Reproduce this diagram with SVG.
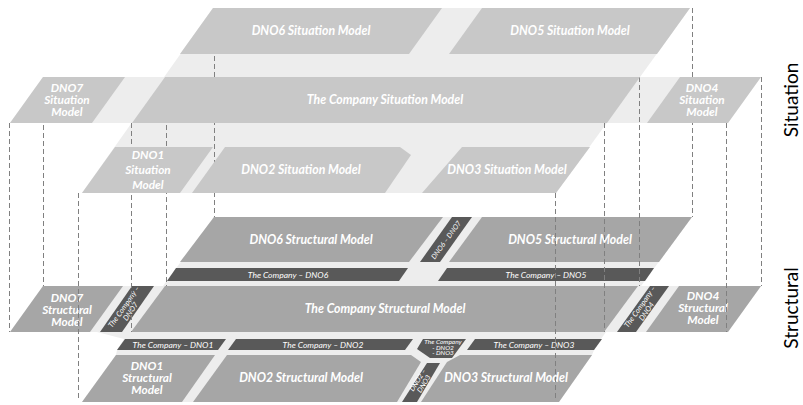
<svg xmlns="http://www.w3.org/2000/svg" width="803" height="405" viewBox="0 0 803 405">
<style>
.plane{fill:#ededed}
.sit{fill:#c8c8c8}
.str{fill:#a6a6a6}
.dark{fill:#595959}
.lbl{font-family:Lato,"Open Sans",sans-serif;font-weight:bold;font-style:italic;font-size:12.3px;fill:#ffffff;text-anchor:middle}
.ml{font-size:11.8px}
.bar{font-family:Lato,"Open Sans",sans-serif;font-style:italic;font-size:8.5px;fill:#ffffff;text-anchor:middle}
.sm{font-family:Lato,"Open Sans",sans-serif;font-style:italic;font-size:7px;fill:#ffffff;text-anchor:middle}
.dash{stroke:#808080;stroke-width:1;stroke-dasharray:5 3;fill:none}
.title{font-family:Lato,"Open Sans",sans-serif;font-size:19px;fill:#000000;text-anchor:middle}
</style>
<rect width="803" height="405" fill="#ffffff"/>
<g id="structural-plane">
<polygon class="plane" points="214,217 692,217 641,286 163,286"/>
<polygon class="plane" points="43,286 761,286 728,332 10,332"/>
<polygon class="plane" points="97,332 606,332 601,339 594,350 592,355 559,402 82,402 116,355 117,350 124,339"/>
</g>
<g id="dno6-structural"><polygon class="str" points="214,217 443,217 409,262 180,262"/><text class="lbl" x="311" y="244.3">DNO6 Structural Model</text></g>
<g id="dno6-dno7"><polygon class="dark" points="452,217 472,217 440,262 420,262"/><text class="sm" transform="translate(446,240) rotate(-54)" y="2.5">DNO6 – DNO7</text></g>
<g id="dno5-structural"><polygon class="str" points="482,217 692,217 659,262 449,262"/><text class="lbl" x="570" y="244.3">DNO5 Structural Model</text></g>
<g id="company-dno6"><polygon class="dark" points="176,268 408,268 399,281 167,281"/><text class="bar" x="288" y="278">The Company – DNO6</text></g>
<g id="company-dno5"><polygon class="dark" points="447,268 654,268 645,281 438,281"/><text class="bar" x="546" y="278">The Company – DNO5</text></g>
<g id="dno7-structural"><polygon class="str" points="43,286 123,286 90,332 10,332"/><text class="lbl ml" x="67" y="302">DNO7<tspan x="67" dy="12">Structural</tspan><tspan x="67" dy="12">Model</tspan></text></g>
<g id="company-dno7"><polygon class="dark" points="132,286 154,286 122,332 100,332"/><text class="sm" transform="translate(127,309) rotate(-55)" style="font-size:7.5px" y="-1.2">The Company –<tspan x="0" dy="8">DNO7</tspan></text></g>
<g id="company-structural"><polygon class="str" points="165,286 638,286 604,332 131,332"/><text class="lbl" x="385" y="313.3">The Company Structural Model</text></g>
<g id="company-dno4"><polygon class="dark" points="650,286 669,286 636,332 617,332"/><text class="sm" transform="translate(643,309) rotate(-55)" style="font-size:7.5px" y="-1.2">The Company –<tspan x="0" dy="8">DNO4</tspan></text></g>
<g id="dno4-structural"><polygon class="str" points="679,286 761,286 728,332 646,332"/><text class="lbl ml" x="703" y="300">DNO4<tspan x="703" dy="12">Structural</tspan><tspan x="703" dy="12">Model</tspan></text></g>
<g id="company-dno1"><polygon class="dark" points="125,339 226,339 218,350 117,350"/><text class="bar" x="173" y="347.5">The Company – DNO1</text></g>
<g id="company-dno2"><polygon class="dark" points="236,339 413,339 405,350 228,350"/><text class="bar" x="323" y="347.5">The Company – DNO2</text></g>
<g id="company-dno2-dno3"><polygon class="dark" points="423,339 466,339 452,358 430,358 417,349"/><text class="sm" style="font-size:6.5px" x="443" y="344">The Company<tspan x="443" dy="5.5">- DNO2</tspan><tspan x="443" dy="5.5">- DNO3</tspan></text></g>
<g id="company-dno3"><polygon class="dark" points="475,339 602,339 594,350 467,350"/><text class="bar" x="534" y="347.5">The Company – DNO3</text></g>
<g id="dno1-structural"><polygon class="str" points="116,355 215,355 182,402 82,402"/><text class="lbl ml" x="147" y="370">DNO1<tspan x="147" dy="12">Structural</tspan><tspan x="147" dy="12">Model</tspan></text></g>
<g id="dno2-structural"><polygon class="str" points="227,355 411,355 421,362 397,402 193,402"/><text class="lbl" x="301" y="382.3">DNO2 Structural Model</text></g>
<g id="dno2-dno3"><polygon class="dark" points="427,363 440,363 417,402 402,402"/><text class="sm" transform="translate(421,382) rotate(-58)" y="-1.3">DNO2 –<tspan x="0" dy="7">DNO3</tspan></text></g>
<g id="dno3-structural"><polygon class="str" points="460,355 592,355 559,402 421,402 447,362"/><text class="lbl" x="506" y="382.3">DNO3 Structural Model</text></g>
<g id="situation-plane">
<polygon class="plane" points="213,8 690,8 556,193 82,193"/>
<polygon class="plane" points="43,77 761,77 728,123 10,123"/>
</g>
<g id="connectors">
<path class="dash" d="M9.5,123V332M43.5,77V286M78.5,193V400M131.5,123V332M166.5,77V286M214.5,8V217M555.5,193V400M604.5,123V332M639.5,77V286M692.5,8V217M726.5,123V332M761.5,77V286"/>
</g>
<g id="dno6-situation"><polygon class="sit" points="213,8 442,8 409,54 180,54"/><text class="lbl" x="311" y="35.3">DNO6 Situation Model</text></g>
<g id="dno5-situation"><polygon class="sit" points="482,8 690,8 657,54 449,54"/><text class="lbl" x="570" y="35.3">DNO5 Situation Model</text></g>
<g id="dno7-situation"><polygon class="sit" points="43,77 125,77 92,123 10,123"/><text class="lbl ml" x="67" y="92">DNO7<tspan x="67" dy="12">Situation</tspan><tspan x="67" dy="12">Model</tspan></text></g>
<g id="company-situation"><polygon class="sit" points="165,77 640,77 607,123 132,123"/><text class="lbl" x="385" y="104.3">The Company Situation Model</text></g>
<g id="dno4-situation"><polygon class="sit" points="680,77 761,77 728,123 647,123"/><text class="lbl ml" x="702" y="92">DNO4<tspan x="702" dy="12">Situation</tspan><tspan x="702" dy="12">Model</tspan></text></g>
<g id="dno1-situation"><polygon class="sit" points="115,147 213,147 180,193 82,193"/><text class="lbl ml" x="148" y="159">DNO1<tspan x="148" dy="15">Situation</tspan><tspan x="148" dy="15">Model</tspan></text></g>
<g id="dno2-situation"><polygon class="sit" points="225,147 400,147 411,155 385,193 192,193"/><text class="lbl" x="301" y="174.3">DNO2 Situation Model</text></g>
<g id="dno3-situation"><polygon class="sit" points="462,147 590,147 556,193 422,193"/><text class="lbl" x="507" y="174.3">DNO3 Situation Model</text></g>
<text class="title" transform="translate(798,100) rotate(-90)">Situation</text>
<text class="title" transform="translate(798,308) rotate(-90)">Structural</text>
</svg>
